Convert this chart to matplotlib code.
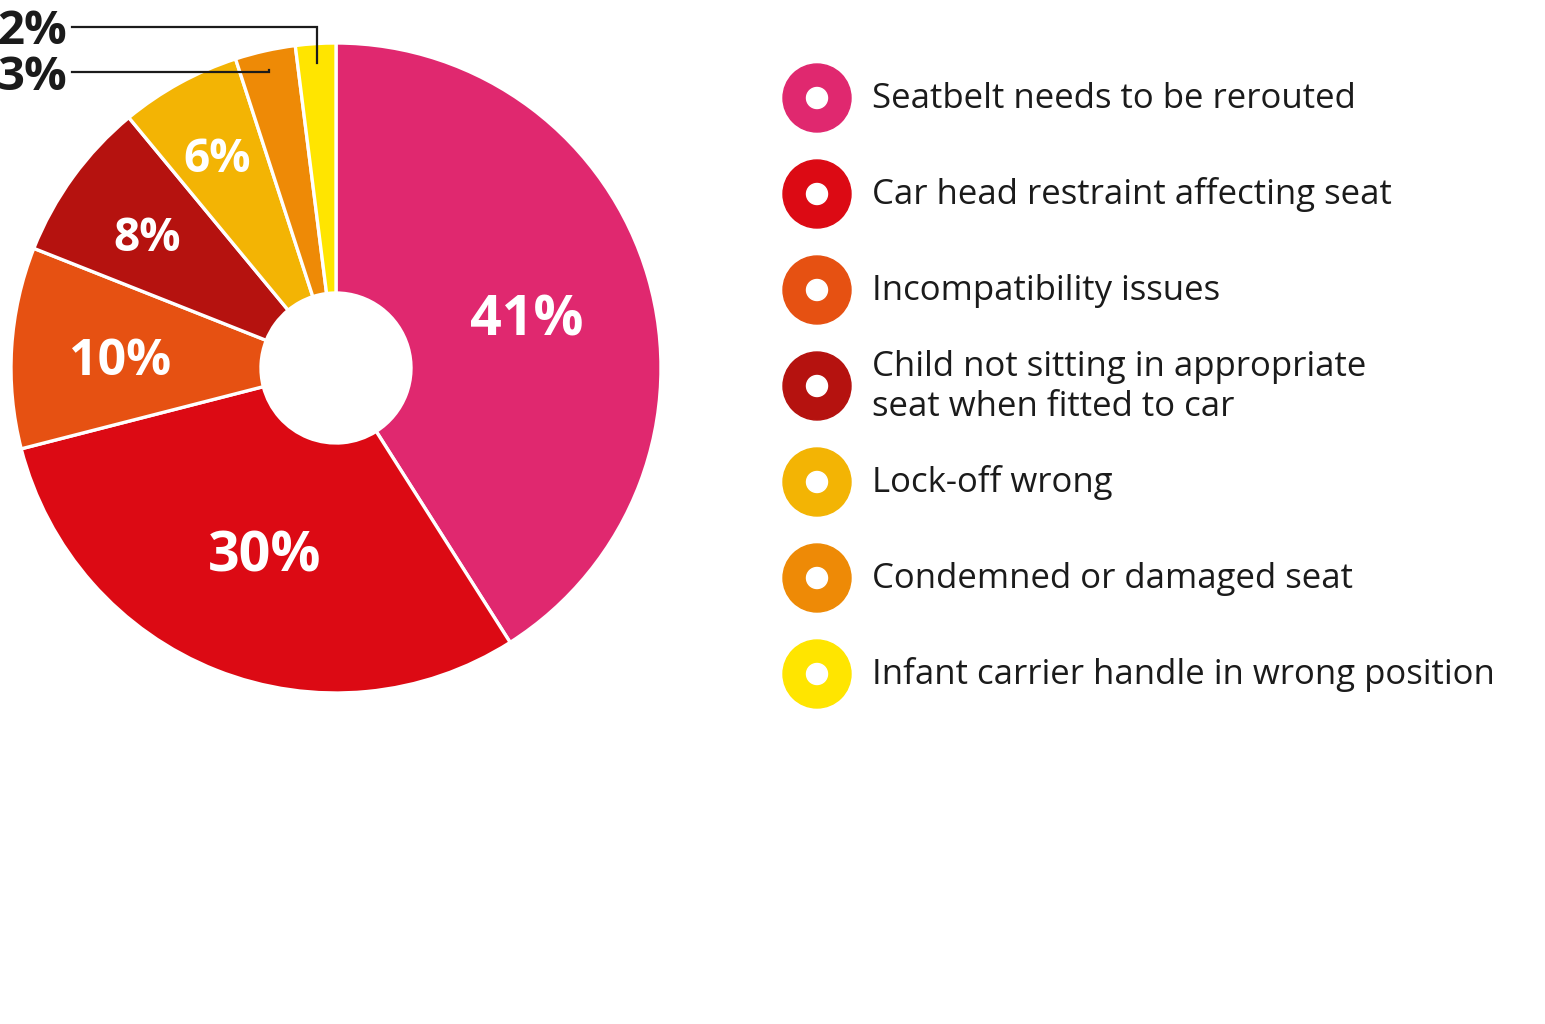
import numpy as np
import matplotlib
matplotlib.use('Agg')
import matplotlib.pyplot as plt
from matplotlib.patches import Circle

plt.rcParams['font.family'] = ['Open Sans', 'DejaVu Sans']

# data
categories = [
    'Seatbelt needs to be rerouted',
    'Car head restraint affecting seat',
    'Incompatibility issues',
    'Child not sitting in appropriate\nseat when fitted to car',
    'Lock-off wrong',
    'Condemned or damaged seat',
    'Infant carrier handle in wrong position',
]
values = [41, 30, 10, 8, 6, 3, 2]
colors = ['#E0286F', '#DC0A14', '#E65112', '#B5120F', '#F3B404', '#EE8A06', '#FFE500']

W, H = 1545, 1024
fig = plt.figure(figsize=(W / 100, H / 100), dpi=100)
ax = fig.add_axes([0, 0, 1, 1])

cx, cy = 336, H - 368
R, hole = 325, 75
wedges, _ = ax.pie(values, colors=colors, startangle=90, counterclock=False,
                   radius=R, center=(cx, cy), frame=True,
                   wedgeprops=dict(width=R - hole, edgecolor='white', linewidth=2.4))
ax.set_xlim(0, W)
ax.set_ylim(0, H)
ax.set_aspect('equal')
ax.axis('off')

dark = '#1b1b1b'

# in-slice labels
label_r = [0.61, 0.60, 0.665, 0.72, 0.76]
label_fs = [40, 40, 36, 33, 33]
for w, v, fr, fs in zip(wedges, values, label_r, label_fs):
    ang = np.deg2rad((w.theta1 + w.theta2) / 2)
    ax.text(cx + fr * R * np.cos(ang), cy + fr * R * np.sin(ang) - 8, f'{v}%',
            ha='center', va='center', color='white', fontsize=fs, fontweight='bold')

# leader labels for the small slices
for w, v, ly in zip(wedges[5:], values[5:], [72, 27]):
    ang = np.deg2rad((w.theta1 + w.theta2) / 2)
    ex, ey = cx + 0.94 * R * np.cos(ang), cy + 0.94 * R * np.sin(ang)
    ax.plot([72, ex, ex], [H - ly, H - ly, ey], color=dark, lw=1.6,
            solid_joinstyle='miter')
    ax.text(67, H - ly - 5, f'{v}%', ha='right', va='center', color=dark,
            fontsize=34, fontweight='bold')

# legend
for i, (c, lab) in enumerate(zip(colors, categories)):
    y = H - (98 + 96 * i)
    ax.add_patch(Circle((817, y), 34, color=c))
    ax.add_patch(Circle((817, y), 10.5, color='white'))
    ax.text(872, y - 1, lab, ha='left', va='center', color=dark, fontsize=25,
            linespacing=1.22)

fig.savefig('out.png', dpi=100, facecolor='white')
